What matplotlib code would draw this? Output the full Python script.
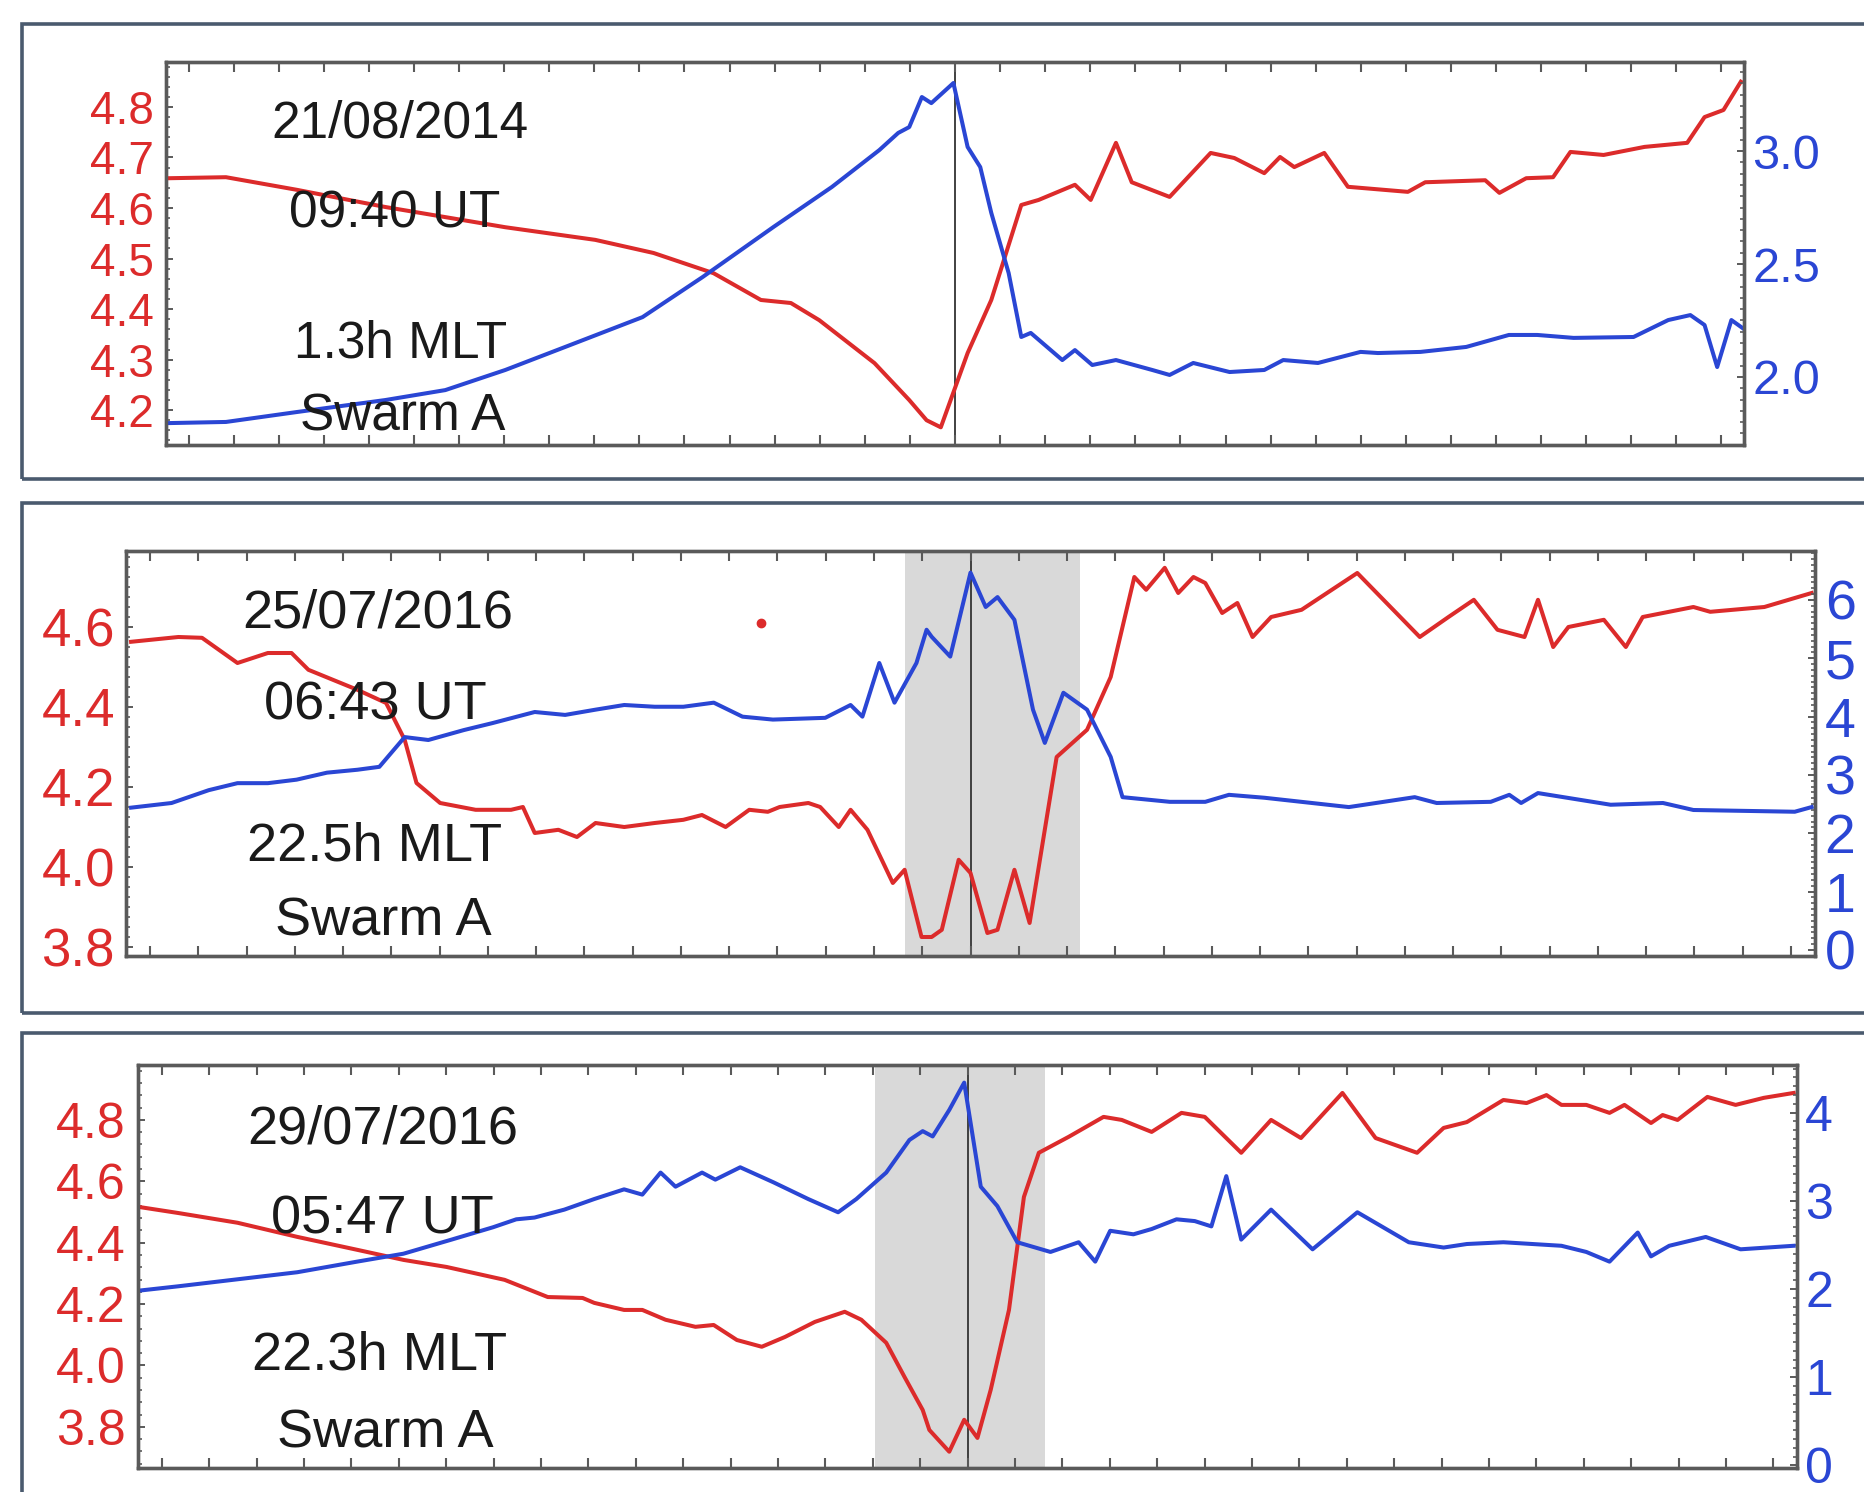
import numpy as np
import matplotlib.pyplot as plt
from matplotlib.patches import Rectangle
from matplotlib.ticker import MultipleLocator, FormatStrFormatter

plt.rcParams['font.family'] = ['Liberation Sans', 'DejaVu Sans']

ROJO = '#dc2b2b'
AZUL = '#2a46d4'
BORDE = '#4a5a6e'
EJE = '#5a5a5a'

W, H = 1864, 1492

# --- panel 1: 21/08/2014 ---
p1_t_red = [0.2, 3.8, 8.3, 13.9, 21.5, 27.2, 30.9, 34.7, 37.7, 39.6, 41.4, 44.9, 47.1, 48.2, 49.1,
            50.8, 52.3, 54.2, 55.3, 57.6, 58.6, 60.2, 61.2, 63.6, 66.2, 67.7, 69.6, 70.6, 71.5, 73.4,
            74.9, 78.7, 79.8, 83.6, 84.5, 86.2, 87.9, 89.0, 91.1, 93.7, 96.4, 97.5, 98.7, 99.8]
p1_red = [4.659, 4.661, 4.636, 4.602, 4.562, 4.537, 4.511, 4.471, 4.418, 4.412, 4.378, 4.293, 4.220, 4.180, 4.166,
          4.313, 4.418, 4.606, 4.616, 4.646, 4.616, 4.729, 4.651, 4.622, 4.709, 4.699, 4.669, 4.701, 4.681, 4.709,
          4.642, 4.632, 4.651, 4.655, 4.630, 4.659, 4.661, 4.711, 4.705, 4.721, 4.729, 4.780, 4.794, 4.850]
p1_t_blue = [0.2, 3.8, 8.3, 13.9, 17.7, 21.5, 25.3, 30.2, 34.0, 38.5, 42.2, 45.2, 46.4, 47.1, 47.9, 48.5,
             49.9, 50.8, 51.6, 52.3, 53.4, 54.2, 54.8, 56.8, 57.6, 58.7, 60.2, 62.5, 63.6, 65.1, 67.4, 69.6,
             70.8, 73.0, 75.7, 76.8, 79.5, 82.4, 85.1, 86.9, 89.2, 93.0, 95.2, 96.6, 97.5, 98.3, 99.2, 99.9]
p1_blue = [1.796, 1.801, 1.845, 1.898, 1.942, 2.031, 2.133, 2.265, 2.442, 2.664, 2.841, 3.004, 3.080, 3.106, 3.239, 3.212,
           3.301, 3.018, 2.929, 2.726, 2.460, 2.177, 2.195, 2.075, 2.119, 2.053, 2.075, 2.031, 2.009, 2.062, 2.022, 2.031,
           2.075, 2.062, 2.111, 2.106, 2.111, 2.133, 2.186, 2.186, 2.173, 2.177, 2.252, 2.274, 2.230, 2.044, 2.252, 2.217]

# --- panel 2: 25/07/2016 ---
p2_t_red = [0.3, 3.1, 4.5, 6.6, 8.4, 9.8, 10.8, 13.7, 15.4, 16.5, 17.2, 18.6, 20.7, 22.8, 23.5,
            24.2, 25.6, 26.7, 27.8, 29.5, 31.3, 33.0, 34.1, 35.5, 36.9, 38.0, 38.7, 40.4, 41.1, 42.2,
            42.9, 43.9, 45.4, 46.1, 47.1, 47.7, 48.3, 49.3, 50.0, 51.0, 51.6, 52.6, 53.5, 55.1, 56.9,
            58.3, 59.7, 60.4, 61.5, 62.3, 63.2, 63.9, 64.9, 65.8, 66.7, 67.8, 69.6, 72.9, 76.6, 78.3,
            79.8, 81.2, 82.8, 83.6, 84.5, 85.4, 87.5, 88.8, 89.8, 92.8, 93.8, 97.0, 99.8]
p2_red = [4.563, 4.575, 4.573, 4.510, 4.535, 4.535, 4.493, 4.443, 4.410, 4.318, 4.210, 4.160, 4.143, 4.143, 4.150,
          4.085, 4.093, 4.075, 4.110, 4.100, 4.110, 4.118, 4.130, 4.100, 4.143, 4.138, 4.150, 4.160, 4.150, 4.100,
          4.143, 4.093, 3.960, 3.993, 3.825, 3.825, 3.843, 4.018, 3.985, 3.835, 3.843, 3.993, 3.860, 4.275, 4.343,
          4.475, 4.725, 4.693, 4.748, 4.685, 4.725, 4.710, 4.635, 4.660, 4.575, 4.625, 4.643, 4.735, 4.575, 4.625,
          4.668, 4.593, 4.575, 4.668, 4.550, 4.600, 4.618, 4.550, 4.625, 4.650, 4.638, 4.650, 4.685]
p2_t_blue = [0.3, 2.7, 4.9, 6.6, 8.4, 10.1, 11.9, 13.7, 15.0, 16.5, 17.9, 20.0, 21.7, 24.2, 26.0,
             27.8, 29.5, 31.3, 33.0, 34.8, 36.5, 38.3, 41.4, 42.9, 43.6, 44.6, 45.5, 46.8, 47.4, 47.7,
             48.8, 50.0, 50.9, 51.6, 52.6, 53.7, 54.4, 55.5, 56.9, 58.3, 59.0, 61.8, 63.9, 65.3, 67.4,
             72.4, 76.3, 77.6, 80.8, 81.9, 82.6, 83.6, 87.9, 91.0, 92.8, 98.8, 99.8]
p2_blue = [2.44, 2.52, 2.74, 2.86, 2.86, 2.92, 3.04, 3.09, 3.14, 3.65, 3.60, 3.77, 3.89, 4.08, 4.03,
           4.12, 4.20, 4.17, 4.17, 4.24, 4.00, 3.95, 3.98, 4.20, 4.00, 4.92, 4.24, 4.92, 5.49, 5.37,
           5.03, 6.47, 5.88, 6.05, 5.66, 4.12, 3.55, 4.41, 4.12, 3.31, 2.62, 2.54, 2.54, 2.66, 2.61,
           2.45, 2.62, 2.52, 2.54, 2.66, 2.52, 2.69, 2.49, 2.52, 2.40, 2.37, 2.45]
p2_dot = (37.6, 4.61)

# --- panel 3: 29/07/2016 ---
p3_t_red = [0.0, 2.4, 6.0, 9.6, 13.2, 16.0, 18.6, 22.1, 24.7, 26.8, 27.5, 29.3, 30.4, 31.8, 33.6,
            34.7, 36.1, 37.6, 39.0, 40.8, 42.6, 43.6, 45.1, 46.2, 47.3, 47.7, 48.9, 49.8, 50.6, 51.4,
            52.5, 53.4, 54.3, 56.1, 58.2, 59.3, 61.1, 62.9, 64.3, 66.5, 68.3, 70.1, 72.6, 74.6, 77.1,
            78.7, 80.1, 82.3, 83.7, 84.9, 85.8, 87.3, 88.7, 89.6, 91.2, 91.9, 92.8, 94.6, 96.3, 98.0, 99.8]
p3_red = [4.517, 4.497, 4.465, 4.419, 4.377, 4.344, 4.321, 4.279, 4.223, 4.220, 4.204, 4.181, 4.181, 4.149, 4.126,
          4.132, 4.083, 4.061, 4.093, 4.142, 4.175, 4.149, 4.074, 3.963, 3.855, 3.790, 3.719, 3.823, 3.764, 3.921,
          4.181, 4.549, 4.693, 4.745, 4.810, 4.800, 4.761, 4.823, 4.810, 4.693, 4.800, 4.741, 4.888, 4.741, 4.693,
          4.774, 4.793, 4.865, 4.855, 4.881, 4.849, 4.849, 4.823, 4.849, 4.790, 4.816, 4.800, 4.875, 4.849, 4.872, 4.888]
p3_t_blue = [0.0, 2.4, 6.0, 9.6, 13.2, 16.0, 18.9, 21.4, 22.8, 23.9, 25.7, 27.5, 29.3, 30.4, 31.5,
             32.4, 34.0, 34.8, 36.3, 38.3, 40.4, 42.2, 43.3, 45.1, 46.5, 47.3, 47.9, 48.9, 49.8, 50.8,
             51.8, 53.0, 55.0, 56.7, 57.7, 58.6, 60.0, 61.1, 62.6, 63.7, 64.7, 65.6, 66.5, 68.3, 70.8,
             73.5, 76.6, 78.7, 80.1, 82.3, 85.8, 87.3, 88.7, 90.4, 91.2, 92.3, 94.5, 96.6, 99.8]
p3_blue = [1.98, 2.03, 2.11, 2.19, 2.31, 2.40, 2.56, 2.70, 2.79, 2.81, 2.90, 3.02, 3.13, 3.07, 3.32,
           3.16, 3.32, 3.24, 3.38, 3.21, 3.02, 2.87, 3.02, 3.32, 3.69, 3.79, 3.73, 4.03, 4.34, 3.16,
           2.94, 2.53, 2.42, 2.53, 2.31, 2.66, 2.62, 2.68, 2.79, 2.77, 2.71, 3.28, 2.56, 2.90, 2.45,
           2.87, 2.53, 2.47, 2.51, 2.53, 2.49, 2.42, 2.31, 2.64, 2.37, 2.49, 2.59, 2.45, 2.49]

p1_text = ['21/08/2014', '09:40 UT', '1.3h MLT', 'Swarm A']
p2_text = ['25/07/2016', '06:43 UT', '22.5h MLT', 'Swarm A']
p3_text = ['29/07/2016', '05:47 UT', '22.3h MLT', 'Swarm A']

p1_red_ticks = [4.2, 4.3, 4.4, 4.5, 4.6, 4.7, 4.8]
p1_blue_ticks = [2.0, 2.5, 3.0]
p2_red_ticks = [3.8, 4.0, 4.2, 4.4, 4.6]
p2_blue_ticks = [0, 1, 2, 3, 4, 5, 6]
p3_red_ticks = [3.8, 4.0, 4.2, 4.4, 4.6, 4.8]
p3_blue_ticks = [0, 1, 2, 3, 4]


def px(x0, y0, x1, y1):
    """Convierte una caja en pixeles (arriba-izquierda) a coordenadas de figura."""
    return [x0 / W, 1 - y1 / H, (x1 - x0) / W, (y1 - y0) / H]


def estilo_ejes(ax):
    for s in ax.spines.values():
        s.set_color(EJE)
        s.set_linewidth(2.4)


def panel(fig, caja, t_red, red, t_blue, blue, lim_red, lim_blue, ticks_red, ticks_blue,
          fmt_blue, minor_red, minor_blue, fs_red, fs_blue, pad_red, pad_blue, sombra=None):
    ax = fig.add_axes(px(*caja))
    ax.set_xlim(0, 100)
    ax.set_ylim(*lim_red)

    if sombra:
        ax.axvspan(sombra[0], sombra[1], color='#d9d9d9', lw=0, zorder=0)
    ax.axvline(50, color='#333333', lw=1.3, zorder=1)
    ax.plot(t_red, red, color=ROJO, lw=2.9, zorder=3)

    ax.set_xticks((np.arange(35) + 0.5) * 100 / 35)
    ax.tick_params(axis='x', direction='in', top=True, bottom=True, labelbottom=False,
                   length=7, width=1.5, color=EJE)
    ax.set_yticks(ticks_red)
    ax.yaxis.set_major_formatter(FormatStrFormatter('%.1f'))
    ax.yaxis.set_minor_locator(MultipleLocator(minor_red))
    ax.tick_params(axis='y', which='major', direction='in', length=5, width=1.4, color=EJE,
                   labelcolor=ROJO, labelsize=fs_red, pad=pad_red)
    ax.tick_params(axis='y', which='minor', direction='in', length=3, width=1.2, color=EJE)
    estilo_ejes(ax)

    ax2 = ax.twinx()
    ax2.plot(t_blue, blue, color=AZUL, lw=2.9)
    ax2.set_ylim(*lim_blue)
    ax2.set_yticks(ticks_blue)
    ax2.yaxis.set_major_formatter(FormatStrFormatter(fmt_blue))
    ax2.yaxis.set_minor_locator(MultipleLocator(minor_blue))
    ax2.tick_params(axis='y', which='major', direction='in', length=5, width=1.4, color=EJE,
                    labelcolor=AZUL, labelsize=fs_blue, pad=pad_blue)
    ax2.tick_params(axis='y', which='minor', direction='in', length=3, width=1.2, color=EJE)
    estilo_ejes(ax2)
    return ax, ax2


def textos(fig, lineas, posiciones, fs):
    for txt, (x, y) in zip(lineas, posiciones):
        fig.text(x / W, 1 - y / H, txt, ha='center', va='baseline', fontsize=fs, color='#1a1a1a')


fig = plt.figure(figsize=(W / 100, H / 100), dpi=100)

# marcos de cada panel
for y0, y1 in [(24, 479), (503, 1013), (1033, 1520)]:
    fig.add_artist(Rectangle((22 / W, 1 - y1 / H), 1.0, (y1 - y0) / H, transform=fig.transFigure,
                             fill=False, ec=BORDE, lw=2.6))

panel(fig, (166, 62, 1744, 445), p1_t_red, p1_red, p1_t_blue, p1_blue,
      (4.131, 4.889), (1.699, 3.394), p1_red_ticks, p1_blue_ticks, '%.1f',
      0.02, 0.05, 33, 35, 9, 6)
textos(fig, p1_text, [(400, 137), (395, 227), (401, 357), (403, 430)], 37)

ax2a, _ = panel(fig, (126, 551, 1815, 956), p2_t_red, p2_red, p2_t_blue, p2_blue,
                (3.7775, 4.79), (-0.103, 6.84), p2_red_ticks, p2_blue_ticks, '%d',
                0.025, 0.1, 38, 40, 8, 7, sombra=(46.1, 56.5))
ax2a.plot([p2_dot[0]], [p2_dot[1]], 'o', color=ROJO, ms=6, zorder=4)
textos(fig, p2_text, [(378, 627), (375, 720), (375, 860), (383, 935)], 39)

panel(fig, (138, 1065, 1797, 1468), p3_t_red, p3_red, p3_t_blue, p3_blue,
      (3.666, 4.979), (-0.03, 4.54), p3_red_ticks, p3_blue_ticks, '%d',
      0.04, 0.1, 36, 36, 9, 6, sombra=(44.4, 54.7))
textos(fig, p3_text, [(383, 1143), (382, 1233), (380, 1370), (385, 1447)], 39)

fig.savefig('out.png', dpi=100)
